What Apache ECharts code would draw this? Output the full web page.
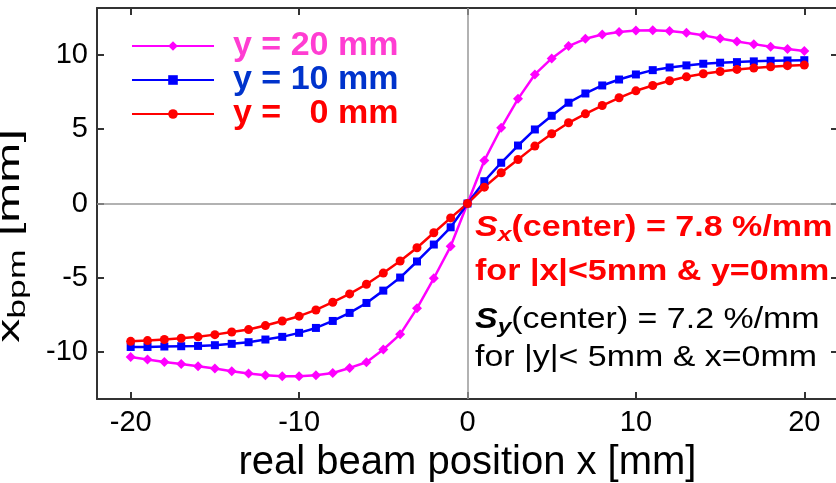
<!DOCTYPE html>
<html>
<head>
<meta charset="utf-8">
<script src="https://cdn.jsdelivr.net/npm/echarts@6/dist/echarts.min.js"></script>
<style>
  html, body { margin: 0; padding: 0; background: #fff; }
  #chart1 { width: 836px; height: 483px; }
</style>
</head>
<body>
<div id="chart1"></div>
<script>
// beam position x [mm]
let xvalues = [];
for (let i = -20; i <= 20; i++) {
  xvalues.push(i);
}

let y20 = [-10.32, -10.5, -10.66, -10.8, -10.95, -11.1, -11.28, -11.44, -11.55, -11.62,
  -11.62, -11.55, -11.4, -11.06, -10.68, -9.82, -8.8, -7.05, -5.03, -2.88,
  0, 2.89, 5.09, 7.04, 8.68, 9.76, 10.59, 11.08, 11.37, 11.53,
  11.64, 11.66, 11.6, 11.49, 11.31, 11.1, 10.9, 10.72, 10.54, 10.39, 10.25];

let y10 = [-9.65, -9.65, -9.62, -9.6, -9.58, -9.53, -9.44, -9.33, -9.15, -8.97,
  -8.7, -8.37, -7.9, -7.36, -6.69, -5.86, -4.98, -3.9, -2.76, -1.6,
  0, 1.5, 2.74, 3.9, 4.98, 5.9, 6.78, 7.4, 7.94, 8.34,
  8.68, 8.97, 9.15, 9.29, 9.4, 9.47, 9.51, 9.56, 9.6, 9.62, 9.64];

let y0 = [-9.27, -9.22, -9.15, -9.06, -8.97, -8.82, -8.64, -8.48, -8.21, -7.9,
  -7.58, -7.16, -6.64, -6.08, -5.43, -4.68, -3.87, -2.98, -1.97, -0.97,
  0, 1.1, 2.07, 2.96, 3.86, 4.69, 5.43, 6.03, 6.59, 7.11,
  7.58, 7.94, 8.26, 8.52, 8.73, 8.88, 9.02, 9.11, 9.2, 9.27, 9.31];

let names = ["y = 20 mm", "y = 10 mm", "y =   0 mm"];
let xticks = [-20, -10, 0, 10, 20];
let yticks = [-10, -5, 0, 5, 10];

function pairs(ys) {
  let out = [];
  for (let i = 0; i < xvalues.length; i++) {
    out.push([xvalues[i], ys[i]]);
  }
  return out;
}

function makeAxis(pos, ticks, min, max, showLabels) {
  return {
    type: "value",
    position: pos,
    min: min,
    max: max,
    splitLine: { show: false },
    axisLine: { show: true, onZero: false, lineStyle: { color: "#333", width: 2 } },
    axisTick: { show: true, inside: true, length: 7, customValues: ticks, lineStyle: { color: "#333", width: 2 } },
    axisLabel: {
      show: showLabels,
      customValues: ticks,
      color: "#000",
      fontFamily: "Liberation Sans",
      fontSize: 29,
      margin: 9,
    },
  };
}

function createGraph(id) {
  var dom = document.getElementById(id);
  var myChart = echarts.init(dom, null, { renderer: "canvas" });

  let xBottom = makeAxis("bottom", xticks, -22, 22, true);
  xBottom.name = "real beam position x [mm]";
  xBottom.nameLocation = "middle";
  xBottom.nameGap = 44;
  xBottom.nameTextStyle = { color: "#000", fontFamily: "Liberation Sans", fontSize: 40 };

  var option = {
    animation: false,
    grid: { left: 97, right: -2, top: 8, bottom: 84, outerBoundsMode: "none" },
    xAxis: [xBottom, makeAxis("top", xticks, -22, 22, false)],
    yAxis: [makeAxis("left", yticks, -13.15, 13.15, true), makeAxis("right", yticks, -13.15, 13.15, false)],
    legend: {
      orient: "vertical",
      left: 126,
      top: 24,
      itemWidth: 82,
      itemHeight: 12,
      itemGap: 0,
      textStyle: { fontFamily: "Liberation Sans", fontSize: 34, fontWeight: "bold", lineHeight: 32, padding: [0, 0, 0, 14] },
      data: [
        { name: names[0], textStyle: { color: "#ff3dd2" } },
        { name: names[1], textStyle: { color: "#0033cc" } },
        { name: names[2], textStyle: { color: "#ff0000" } },
      ],
    },
    series: [
      {
        name: names[0],
        type: "line",
        data: pairs(y20),
        symbol: "diamond",
        symbolSize: 10,
        color: "#ff00ff",
        lineStyle: { width: 2.5 },
        markLine: {
          silent: true,
          symbol: "none",
          label: { show: false },
          lineStyle: { color: "#999", width: 1.5, type: "solid" },
          data: [{ xAxis: 0 }, { yAxis: 0 }],
          z: 1,
        },
      },
      {
        name: names[1],
        type: "line",
        data: pairs(y10),
        symbol: "rect",
        symbolSize: 8,
        color: "#0000ff",
        lineStyle: { width: 2.5 },
      },
      {
        name: names[2],
        type: "line",
        data: pairs(y0),
        symbol: "circle",
        symbolSize: 9,
        color: "#ff0000",
        lineStyle: { width: 2.5 },
      },
    ],
    graphic: [
      {
        type: "text",
        x: 10,
        y: 236,
        rotation: Math.PI / 2,
        scaleX: 1.55,
        style: {
          text: "{m|x}{s|bpm}{m| [mm]}",
          fill: "#000",
          align: "center",
          verticalAlign: "middle",
          rich: {
            m: { fontFamily: "Liberation Sans", fontSize: 31, fill: "#000" },
            s: { fontFamily: "Liberation Sans", fontSize: 23, fill: "#000", padding: [17, 0, 0, 0] },
          },
        },
      },
      {
        type: "text",
        x: 475,
        y: 206,
        scaleX: 1.175,
        style: {
          text: "{s|S}{sub|x}{b|(center) = 7.8 %/mm}\n{b|for |x|<5mm & y=0mm}",
          align: "left",
          verticalAlign: "top",
          rich: {
            s: { fontFamily: "Liberation Sans", fontSize: 29, fontWeight: "bold", fontStyle: "italic", fill: "#ff0000", lineHeight: 44 },
            sub: { fontFamily: "Liberation Sans", fontSize: 21, fontWeight: "bold", fontStyle: "italic", fill: "#ff0000", padding: [14, 0, 0, 0], lineHeight: 44 },
            b: { fontFamily: "Liberation Sans", fontSize: 29, fontWeight: "bold", fill: "#ff0000", lineHeight: 44 },
          },
        },
      },
      {
        type: "text",
        x: 475,
        y: 301,
        scaleX: 1.17,
        style: {
          text: "{s|S}{sub|y}{n|(center) = 7.2 %/mm}\n{n|for |y|< 5mm & x=0mm}",
          align: "left",
          verticalAlign: "top",
          rich: {
            s: { fontFamily: "Liberation Sans", fontSize: 29, fontWeight: "bold", fontStyle: "italic", fill: "#000", lineHeight: 38 },
            sub: { fontFamily: "Liberation Sans", fontSize: 21, fontWeight: "bold", fontStyle: "italic", fill: "#000", padding: [14, 0, 0, 0], lineHeight: 38 },
            n: { fontFamily: "Liberation Sans", fontSize: 29, fill: "#000", lineHeight: 38 },
          },
        },
      },
    ],
  };
  myChart.setOption(option);
  window.addEventListener("resize", myChart.resize);
}

createGraph("chart1");
</script>
</body>
</html>
